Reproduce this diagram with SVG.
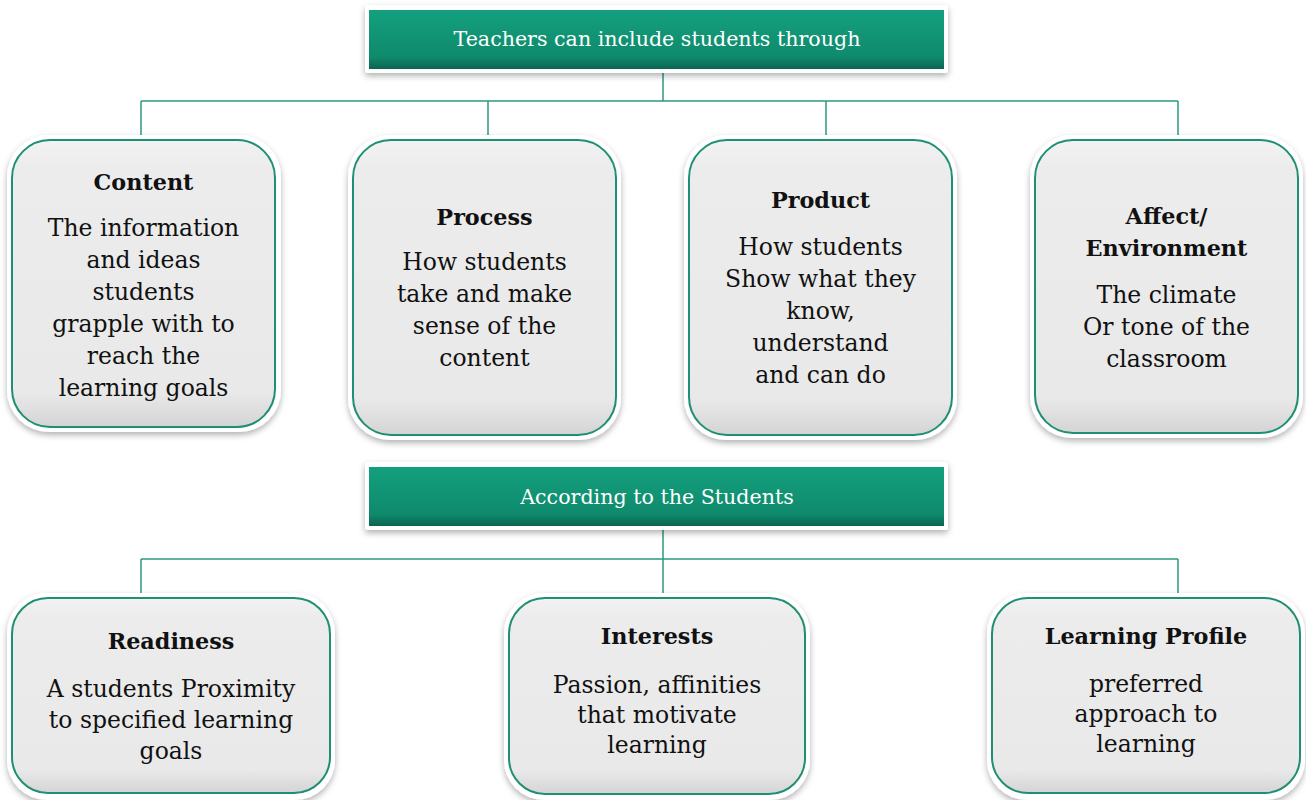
<svg xmlns="http://www.w3.org/2000/svg" width="1306" height="800" viewBox="0 0 1306 800">
<defs>
<linearGradient id="hdr" x1="0" y1="0" x2="0" y2="1">
<stop offset="0" stop-color="#13a07e"/>
<stop offset="0.8" stop-color="#0f8a6c"/>
<stop offset="1" stop-color="#0b6450"/>
</linearGradient>
<linearGradient id="card" x1="0" y1="0" x2="0" y2="1">
<stop offset="0" stop-color="#f2f2f2"/>
<stop offset="0.1" stop-color="#ececec"/>
<stop offset="0.88" stop-color="#e9e9e9"/>
<stop offset="1" stop-color="#d4d4d4"/>
</linearGradient>
<filter id="sh" x="-10%" y="-10%" width="120%" height="125%">
<feDropShadow dx="0" dy="3" stdDeviation="3" flood-color="#000" flood-opacity="0.3"/>
</filter>
</defs>
<style>
.frame{fill:#ffffff;filter:url(#sh)}
.card{fill:url(#card);stroke:#1f8f74;stroke-width:2}
.hbox{fill:url(#hdr)}
.htxt{font-family:"DejaVu Serif","Liberation Serif",serif;font-size:20.6px;fill:#ffffff;text-anchor:middle}
.ttl{font-family:"DejaVu Serif","Liberation Serif",serif;font-size:22.3px;font-weight:bold;fill:#111;text-anchor:middle}
.body{font-family:"DejaVu Serif","Liberation Serif",serif;font-size:23.5px;fill:#111;text-anchor:middle}
.conn{stroke:#2a9a80;stroke-width:1.5;fill:none}
</style>
<rect width="1306" height="800" fill="#ffffff"/>

<g id="connectors">
<path class="conn" d="M663 73 V101 M141 101 H1178 M141 101 V136 M488 101 V138 M826 101 V138 M1178 101 V136"/>
<path class="conn" d="M663 530 V594 M141 559 H1178 M141 559 V596 M1178 559 V596"/>
</g>

<g id="header1">
<rect class="frame" x="365" y="5" width="583" height="68" rx="3"/>
<rect class="hbox" x="369" y="10" width="575" height="59"/>
<text class="htxt" x="657" y="46">Teachers can include students through</text>
</g>

<g id="content">
<rect class="frame" x="7" y="135" width="274" height="297" rx="42"/>
<rect class="card" x="12" y="140" width="263" height="287" rx="38"/>
<text class="ttl" x="143.5" y="190">Content</text>
<text class="body" x="143.5" y="236">The information</text>
<text class="body" x="143.5" y="268">and ideas</text>
<text class="body" x="143.5" y="300">students</text>
<text class="body" x="143.5" y="332">grapple with to</text>
<text class="body" x="143.5" y="364">reach the</text>
<text class="body" x="143.5" y="396">learning goals</text>
</g>

<g id="process">
<rect class="frame" x="348" y="135" width="273" height="305" rx="42"/>
<rect class="card" x="353" y="140" width="263" height="295" rx="38"/>
<text class="ttl" x="484.5" y="225">Process</text>
<text class="body" x="484.5" y="270">How students</text>
<text class="body" x="484.5" y="302">take and make</text>
<text class="body" x="484.5" y="334">sense of the</text>
<text class="body" x="484.5" y="366">content</text>
</g>

<g id="product">
<rect class="frame" x="684" y="135" width="273" height="305" rx="42"/>
<rect class="card" x="689" y="140" width="263" height="295" rx="38"/>
<text class="ttl" x="820.5" y="208">Product</text>
<text class="body" x="820.5" y="255">How students</text>
<text class="body" x="820.5" y="287">Show what they</text>
<text class="body" x="820.5" y="319">know,</text>
<text class="body" x="820.5" y="351">understand</text>
<text class="body" x="820.5" y="383">and can do</text>
</g>

<g id="affect">
<rect class="frame" x="1030" y="135" width="273" height="303" rx="42"/>
<rect class="card" x="1035" y="140" width="263" height="293" rx="38"/>
<text class="ttl" x="1166.5" y="224">Affect/</text>
<text class="ttl" x="1166.5" y="256">Environment</text>
<text class="body" x="1166.5" y="303">The climate</text>
<text class="body" x="1166.5" y="335">Or tone of the</text>
<text class="body" x="1166.5" y="367">classroom</text>
</g>

<g id="header2">
<rect class="frame" x="365" y="462" width="583" height="68" rx="3"/>
<rect class="hbox" x="369" y="467" width="575" height="59"/>
<text class="htxt" x="657" y="504">According to the Students</text>
</g>

<g id="readiness">
<rect class="frame" x="7" y="593" width="328" height="207" rx="40"/>
<rect class="card" x="12" y="598" width="318" height="195" rx="36"/>
<text class="ttl" x="171" y="649">Readiness</text>
<text class="body" x="171" y="697">A students Proximity</text>
<text class="body" x="171" y="728">to specified learning</text>
<text class="body" x="171" y="759">goals</text>
</g>

<g id="interests">
<rect class="frame" x="504" y="593" width="306" height="207" rx="40"/>
<rect class="card" x="509" y="598" width="296" height="196" rx="36"/>
<text class="ttl" x="657" y="644">Interests</text>
<text class="body" x="657" y="693">Passion, affinities</text>
<text class="body" x="657" y="723">that motivate</text>
<text class="body" x="657" y="753">learning</text>
</g>

<g id="learning-profile">
<rect class="frame" x="987" y="593" width="318" height="207" rx="40"/>
<rect class="card" x="992" y="598" width="308" height="195" rx="36"/>
<text class="ttl" x="1146" y="644">Learning Profile</text>
<text class="body" x="1146" y="692">preferred</text>
<text class="body" x="1146" y="722">approach to</text>
<text class="body" x="1146" y="752">learning</text>
</g>
</svg>
